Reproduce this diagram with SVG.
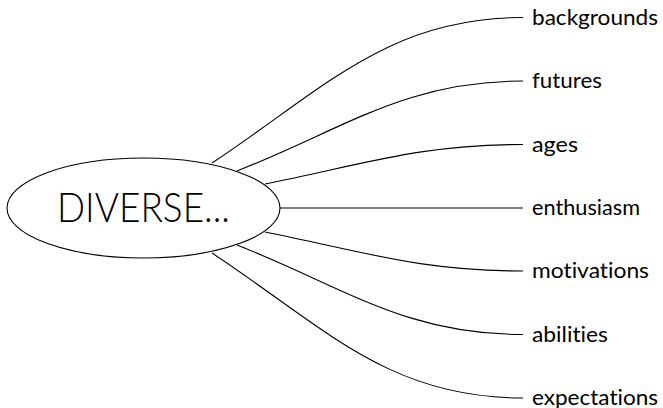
<svg xmlns="http://www.w3.org/2000/svg" width="663" height="408" viewBox="0 0 663 408">
<style>
.c{fill:none;stroke:#000;stroke-width:1.1}
.l{font-family:Lato,"Liberation Sans",sans-serif;font-size:21px;fill:#000;font-variant-ligatures:none}
.n{fill:#fff;stroke:#000;stroke-width:1.1}
.t{font-family:Lato,"Liberation Sans",sans-serif;font-size:41px;font-weight:300;fill:#000}
</style>
<rect width="663" height="408" fill="#fff"/>
<g id="connectors">
<path class="c" d="M212,163 C324,89 388,17.5 523,17.5"/>
<path class="c" d="M237,171 C346,128 405,81 523,81"/>
<path class="c" d="M265,184 C365,164 420,144.5 523,144.5"/>
<path class="c" d="M280,208 L523,208"/>
<path class="c" d="M265,232 C365,252 420,271 523,271"/>
<path class="c" d="M237,245 C346,288 405,334.5 523,334.5"/>
<path class="c" d="M212,253 C324,327 388,398 523,398"/>
</g>
<g id="center">
<ellipse class="n" cx="143.5" cy="208" rx="136.5" ry="50"/>
<text class="t" x="57" y="222" textLength="173" lengthAdjust="spacingAndGlyphs">DIVERSE...</text>
</g>
<g id="backgrounds"><text class="l" x="532" y="24.5" textLength="126" lengthAdjust="spacingAndGlyphs">backgrounds</text></g>
<g id="futures"><text class="l" x="532" y="88" textLength="70" lengthAdjust="spacingAndGlyphs">futures</text></g>
<g id="ages"><text class="l" x="532" y="151.5" textLength="46" lengthAdjust="spacingAndGlyphs">ages</text></g>
<g id="enthusiasm"><text class="l" x="532" y="215" textLength="108" lengthAdjust="spacingAndGlyphs">enthusiasm</text></g>
<g id="motivations"><text class="l" x="532" y="278" textLength="117" lengthAdjust="spacingAndGlyphs">motivations</text></g>
<g id="abilities"><text class="l" x="532" y="341.5" textLength="76" lengthAdjust="spacingAndGlyphs">abilities</text></g>
<g id="expectations"><text class="l" x="532" y="405" textLength="126" lengthAdjust="spacingAndGlyphs">expectations</text></g>
</svg>
